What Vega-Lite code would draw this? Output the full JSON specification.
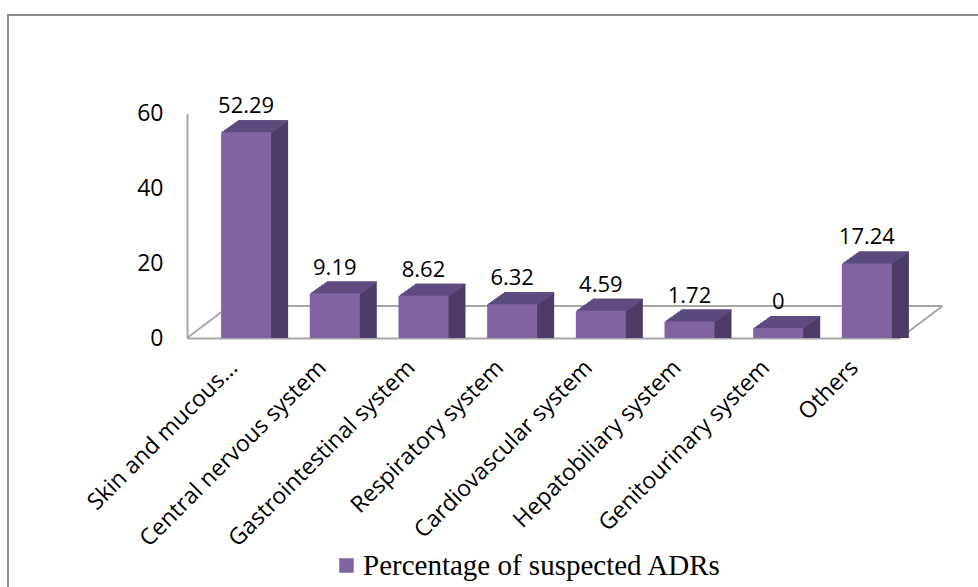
{
  "$schema": "https://vega.github.io/schema/vega-lite/v6.json",
  "autosize": "none",
  "width": 980,
  "height": 600,
  "padding": {"left": 8, "top": 15, "right": 0, "bottom": 0},
  "background": "white",
  "config": {
    "view": {"stroke": "#8C8C8C", "strokeWidth": 2},
    "font": "Open Sans",
    "axis": {"grid": false, "ticks": false, "domainColor": "#A6A6A6", "domainWidth": 2, "labelColor": "#000000", "labelFontSize": 23, "labelFont": "Open Sans"}
  },
  "datasets": {
    "adr": [
      {"category": "Skin and mucous...", "value": 52.29},
      {"category": "Central nervous system", "value": 9.19},
      {"category": "Gastrointestinal system", "value": 8.62},
      {"category": "Respiratory system", "value": 6.32},
      {"category": "Cardiovascular system", "value": 4.59},
      {"category": "Hepatobiliary system", "value": 1.72},
      {"category": "Genitourinary system", "value": 0},
      {"category": "Others", "value": 17.24}
    ]
  },
  "resolve": {"scale": {"x": "independent"}, "axis": {"x": "independent", "y": "independent"}},
  "layer": [
    {
      "data": {"values": [{}]},
      "encoding": {
        "x": {"type": "quantitative", "scale": {"domain": [0, 1], "range": [179, 892], "nice": false, "zero": false}, "axis": null},
        "y": {"type": "quantitative", "scale": {"domain": [0, 60], "range": [323, 98.5], "nice": false}, "axis": null}
      },
      "layer": [
        {"mark": {"type": "rule", "color": "#A6A6A6", "strokeWidth": 2},
         "encoding": {"x": {"datum": 0.0596}, "x2": {"datum": 1.0596}, "y": {"datum": 8.55}, "y2": {"datum": 8.55}}},
        {"mark": {"type": "rule", "color": "#A6A6A6", "strokeWidth": 2},
         "encoding": {"x": {"datum": 0}, "x2": {"datum": 0.0596}, "y": {"datum": 0}, "y2": {"datum": 8.55}}},
        {"mark": {"type": "rule", "color": "#A6A6A6", "strokeWidth": 2},
         "encoding": {"x": {"datum": 1}, "x2": {"datum": 1.0596}, "y": {"datum": 0}, "y2": {"datum": 8.55}}}
      ]
    },
    {
      "data": {"name": "adr"},
      "encoding": {
        "x": {"field": "category", "type": "nominal", "sort": null,
              "scale": {"range": [179, 892], "paddingInner": 0.436, "paddingOuter": 0.238},
              "axis": {"title": null, "labelAngle": -45, "labelAlign": "right", "labelBaseline": "top", "labelPadding": 18, "labelOffset": -7, "offset": -277, "labelLimit": 500, "labelFontSize": 23}},
        "y": {"field": "value", "type": "quantitative", "stack": null,
              "scale": {"domain": [0, 60], "range": [323, 98.5], "nice": false},
              "axis": {"title": null, "values": [0, 20, 40, 60], "labelPadding": 24, "offset": -179}}
      },
      "layer": [
        {"mark": {"type": "bar", "color": "#4E3C68", "xOffset": 30, "x2Offset": 30, "yOffset": -22, "y2Offset": -22}},
        {"mark": {"type": "bar", "color": "#4E3C68", "xOffset": 28.583, "x2Offset": 28.583, "yOffset": -21, "y2Offset": -21}},
        {"mark": {"type": "bar", "color": "#4E3C68", "xOffset": 27.167, "x2Offset": 27.167, "yOffset": -20, "y2Offset": -20}},
        {"mark": {"type": "bar", "color": "#4E3C68", "xOffset": 25.75, "x2Offset": 25.75, "yOffset": -19, "y2Offset": -19}},
        {"mark": {"type": "bar", "color": "#4E3C68", "xOffset": 24.333, "x2Offset": 24.333, "yOffset": -18, "y2Offset": -18}},
        {"mark": {"type": "bar", "color": "#4E3C68", "xOffset": 22.917, "x2Offset": 22.917, "yOffset": -17, "y2Offset": -17}},
        {"mark": {"type": "bar", "color": "#4E3C68", "xOffset": 21.5, "x2Offset": 21.5, "yOffset": -16, "y2Offset": -16}},
        {"mark": {"type": "bar", "color": "#4E3C68", "xOffset": 20.083, "x2Offset": 20.083, "yOffset": -15, "y2Offset": -15}},
        {"mark": {"type": "bar", "color": "#4E3C68", "xOffset": 18.667, "x2Offset": 18.667, "yOffset": -14, "y2Offset": -14}},
        {"mark": {"type": "bar", "color": "#4E3C68", "xOffset": 17.25, "x2Offset": 17.25, "yOffset": -13, "y2Offset": -13}},
        {"mark": {"type": "bar", "color": "#4E3C68", "xOffset": 15.833, "x2Offset": 15.833, "yOffset": -12, "y2Offset": -12}},
        {"mark": {"type": "bar", "color": "#4E3C68", "xOffset": 14.417, "x2Offset": 14.417, "yOffset": -11, "y2Offset": -11}},
        {"mark": {"type": "bar", "color": "#5F4B80", "xOffset": 14.417, "x2Offset": 14.417, "yOffset": -11, "y2Offset": -9.7}, "encoding": {"y2": {"field": "value"}}},
        {"mark": {"type": "bar", "color": "#5F4B80", "xOffset": 15.833, "x2Offset": 15.833, "yOffset": -12, "y2Offset": -10.7}, "encoding": {"y2": {"field": "value"}}},
        {"mark": {"type": "bar", "color": "#5F4B80", "xOffset": 17.25, "x2Offset": 17.25, "yOffset": -13, "y2Offset": -11.7}, "encoding": {"y2": {"field": "value"}}},
        {"mark": {"type": "bar", "color": "#5F4B80", "xOffset": 18.667, "x2Offset": 18.667, "yOffset": -14, "y2Offset": -12.7}, "encoding": {"y2": {"field": "value"}}},
        {"mark": {"type": "bar", "color": "#5F4B80", "xOffset": 20.083, "x2Offset": 20.083, "yOffset": -15, "y2Offset": -13.7}, "encoding": {"y2": {"field": "value"}}},
        {"mark": {"type": "bar", "color": "#5F4B80", "xOffset": 21.5, "x2Offset": 21.5, "yOffset": -16, "y2Offset": -14.7}, "encoding": {"y2": {"field": "value"}}},
        {"mark": {"type": "bar", "color": "#5F4B80", "xOffset": 22.917, "x2Offset": 22.917, "yOffset": -17, "y2Offset": -15.7}, "encoding": {"y2": {"field": "value"}}},
        {"mark": {"type": "bar", "color": "#5F4B80", "xOffset": 24.333, "x2Offset": 24.333, "yOffset": -18, "y2Offset": -16.7}, "encoding": {"y2": {"field": "value"}}},
        {"mark": {"type": "bar", "color": "#5F4B80", "xOffset": 25.75, "x2Offset": 25.75, "yOffset": -19, "y2Offset": -17.7}, "encoding": {"y2": {"field": "value"}}},
        {"mark": {"type": "bar", "color": "#5F4B80", "xOffset": 27.167, "x2Offset": 27.167, "yOffset": -20, "y2Offset": -18.7}, "encoding": {"y2": {"field": "value"}}},
        {"mark": {"type": "bar", "color": "#5F4B80", "xOffset": 28.583, "x2Offset": 28.583, "yOffset": -21, "y2Offset": -19.7}, "encoding": {"y2": {"field": "value"}}},
        {"mark": {"type": "bar", "color": "#5F4B80", "xOffset": 30, "x2Offset": 30, "yOffset": -22, "y2Offset": -20.7}, "encoding": {"y2": {"field": "value"}}},
        {"mark": {"type": "bar", "xOffset": 13, "x2Offset": 13, "yOffset": -10, "y2Offset": -10},
         "encoding": {"color": {"datum": "Percentage of suspected ADRs", "type": "nominal", "scale": {"range": ["#8064A2"]},
           "legend": {"title": null, "orient": "none", "legendX": 324, "legendY": 536, "symbolType": "square", "symbolSize": 210, "symbolStrokeWidth": 0, "labelFont": "Liberation Serif", "labelFontSize": 29, "labelColor": "#000000", "labelLimit": 0, "labelOffset": 2, "padding": 0}}}},
        {"mark": {"type": "text", "xOffset": 13, "yOffset": -29, "baseline": "alphabetic", "fontSize": 22, "color": "#000000", "font": "Open Sans"},
         "encoding": {"text": {"field": "value", "type": "quantitative", "format": ".2~f"}}}
      ]
    }
  ]
}
